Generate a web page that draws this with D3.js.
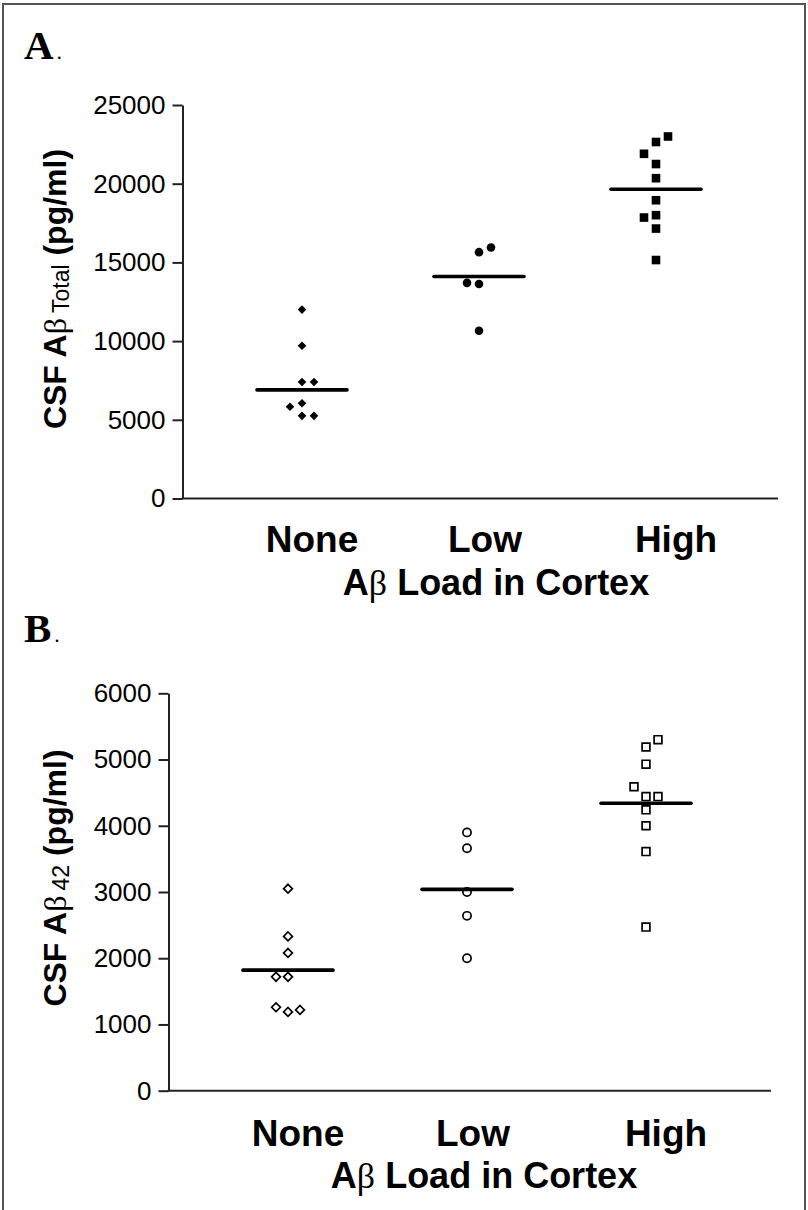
<!DOCTYPE html>
<html>
<head>
<meta charset="utf-8">
<script src="https://cdnjs.cloudflare.com/ajax/libs/d3/7.8.5/d3.min.js"></script>
<style>
  html, body { margin: 0; padding: 0; background: #fff; }
  svg { display: block; }
</style>
</head>
<body>
<script>
// Groups along the x axis
const categories = ["None", "Low", "High"];

// Panel A: CSF total Abeta (pg/ml), one array per group
const totalNone = [5250, 5830, 6050, 5250, 7400, 7400, 9700, 12000];
const totalLow = [13630, 13700, 15650, 15950, 10660];
const totalHigh = [18000, 17850, 22650, 23000, 21250, 21900, 15150, 17150, 18950, 20350];
const totalMeans = [6900, 14100, 19650];
const totalTicks = [0, 5000, 10000, 15000, 20000, 25000];

// Panel B: CSF Abeta42 (pg/ml)
const a42None = [1720, 1720, 1190, 1220, 1260, 2080, 2330, 3050];
const a42Low = [3900, 3660, 3000, 2640, 2000];
const a42High = [4440, 4590, 4440, 5190, 5300, 4930, 4240, 4000, 3610, 2470];
const a42Means = [1820, 3040, 4340];
const a42Ticks = [0, 1000, 2000, 3000, 4000, 5000, 6000];

const W = 808, H = 1210;
const svg = d3.select("body").append("svg").attr("width", W).attr("height", H);

// outer frame
svg.append("rect")
  .attr("x", 3).attr("y", 4).attr("width", 802).attr("height", 1212)
  .attr("fill", "none").attr("stroke", "#555").attr("stroke-width", 2);

const sansBold = "'Liberation Sans', Arial, Helvetica, sans-serif";
const serif = "'Liberation Serif', 'Times New Roman', serif";

// horizontal nudges of the category labels relative to their columns
const catLabelShift = [10, 6, 20];

// marker shapes
function diamondPath(r) { return `M0,${-r}L${r},0L0,${r}L${-r},0Z`; }
function squarePath(h) { return `M${-h},${-h}H${h}V${h}H${-h}Z`; }

// Spread points that overlap vertically into side columns (0, ±1, ±2 ...).
// When both sides are free, the point goes opposite to the nearest already
// displaced point, so the columns stay balanced.
function arrangeColumns(values, y, minGap) {
  const placed = [];
  return values.map(v => {
    const py = y(v);
    const free = s => !placed.some(p => p.slot === s && Math.abs(p.y - py) < minGap);
    let slot = 0;
    if (!free(0)) {
      for (let k = 1; k < 10; k++) {
        const l = free(-k), r = free(k);
        if (l && r) {
          const moved = placed.filter(p => p.slot !== 0);
          if (moved.length) {
            const near = d3.least(moved, p => Math.abs(p.y - py));
            slot = near.slot < 0 ? k : -k;
          } else slot = -k;
          break;
        }
        if (l) { slot = -k; break; }
        if (r) { slot = k; break; }
      }
    }
    placed.push({ y: py, slot });
    return slot;
  });
}

const panels = [
  {
    letter: "A", letterY: 59,
    groups: [totalNone, totalLow, totalHigh], means: totalMeans, ticks: totalTicks,
    markers: [
      { path: diamondPath(4.3), fill: "#000", stroke: "none" },
      { path: d3.symbol(d3.symbolCircle, Math.PI * 4.3 * 4.3)(), fill: "#000", stroke: "none" },
      { path: squarePath(4.3), fill: "#000", stroke: "none" }
    ],
    left: 182.5, right: 778, top: 105, bottom: 498.5,
    xFirst: 302, xLast: 656,
    titleSub: "Total", titleY: 289,
    catY: 552, xTitleY: 595
  },
  {
    letter: "B", letterY: 642,
    groups: [a42None, a42Low, a42High], means: a42Means, ticks: a42Ticks,
    markers: [
      { path: diamondPath(4.4), fill: "#fff", stroke: "#000" },
      { path: d3.symbol(d3.symbolCircle, Math.PI * 4.1 * 4.1)(), fill: "#fff", stroke: "#000" },
      { path: squarePath(3.9), fill: "#fff", stroke: "#000" }
    ],
    left: 168.5, right: 771, top: 693.3, bottom: 1090.7,
    xFirst: 288, xLast: 646,
    titleSub: "42", titleY: 878,
    catY: 1146, xTitleY: 1188
  }
];

panels.forEach(p => {
  const g = svg.append("g");

  // panel letter
  const lt = g.append("text")
    .attr("x", 24).attr("y", p.letterY)
    .attr("font-family", serif).attr("fill", "#000");
  lt.append("tspan").attr("font-size", 41).attr("font-weight", "bold").text(p.letter);
  lt.append("tspan").attr("font-size", 22).attr("dx", 3).text(".");

  const y = d3.scaleLinear().domain([0, d3.max(p.ticks)]).range([p.bottom, p.top]);
  const x = d3.scalePoint().domain(categories).range([p.xFirst, p.xLast]);

  // y axis
  const yAxis = g.append("g")
    .attr("transform", `translate(${p.left},0)`)
    .call(d3.axisLeft(y).tickValues(p.ticks).tickFormat(d3.format("d"))
      .tickSize(10).tickSizeOuter(0).tickPadding(7));
  yAxis.select(".domain").attr("stroke", "#222").attr("stroke-width", 2);
  yAxis.selectAll(".tick line").attr("stroke", "#222").attr("stroke-width", 2);
  yAxis.selectAll(".tick text")
    .attr("font-family", sansBold).attr("font-size", 26).attr("fill", "#000");

  // x axis baseline
  g.append("line")
    .attr("x1", p.left - 1).attr("x2", p.right)
    .attr("y1", y(0)).attr("y2", y(0))
    .attr("stroke", "#222").attr("stroke-width", 2);

  // category labels
  g.selectAll(".cat").data(categories).join("text")
    .attr("x", (d, i) => x(d) + catLabelShift[i]).attr("y", p.catY)
    .attr("text-anchor", "middle")
    .attr("font-family", sansBold).attr("font-weight", "bold").attr("font-size", 37)
    .text(d => d);

  // x axis title
  const xt = g.append("text")
    .attr("x", x("Low") + 17).attr("y", p.xTitleY)
    .attr("text-anchor", "middle")
    .attr("font-family", sansBold).attr("font-weight", "bold").attr("font-size", 36);
  xt.append("tspan").text("A");
  xt.append("tspan").attr("font-family", serif).attr("font-weight", "normal").text("\u03B2");
  xt.append("tspan").text(" Load in Cortex");

  // y axis title
  const yt = g.append("text")
    .attr("transform", `translate(66,${p.titleY}) rotate(-90)`)
    .attr("text-anchor", "middle")
    .attr("font-family", sansBold).attr("font-weight", "bold").attr("font-size", 32);
  yt.append("tspan").text("CSF A");
  yt.append("tspan").attr("font-family", serif).attr("font-weight", "normal").text("\u03B2");
  yt.append("tspan").attr("font-size", 23).attr("font-weight", "normal")
    .attr("dx", 5).attr("dy", 3).text(p.titleSub);
  yt.append("tspan").attr("dy", -3).text(" (pg/ml)");

  // points
  p.groups.forEach((vals, gi) => {
    const slots = arrangeColumns(vals, y, 11);
    const m = p.markers[gi];
    g.append("g").selectAll("path").data(vals).join("path")
      .attr("d", m.path)
      .attr("transform", (d, i) => `translate(${x(categories[gi]) + slots[i] * 12},${y(d)})`)
      .attr("fill", m.fill).attr("stroke", m.stroke).attr("stroke-width", 1.7);
  });

  // group mean lines
  g.selectAll(".mean").data(p.means).join("line")
    .attr("x1", (d, i) => x(categories[i]) - 45)
    .attr("x2", (d, i) => x(categories[i]) + 45)
    .attr("y1", d => y(d)).attr("y2", d => y(d))
    .attr("stroke", "#000").attr("stroke-width", 3.6).attr("stroke-linecap", "round");
});
</script>
</body>
</html>
